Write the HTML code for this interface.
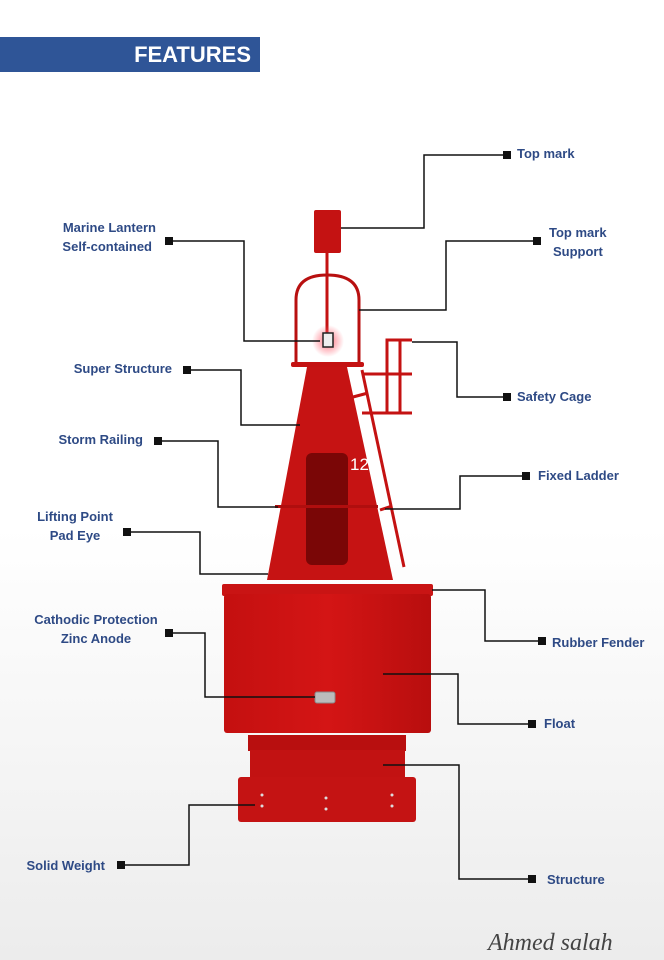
<!DOCTYPE html>
<html><head><meta charset="utf-8"><style>
html,body{margin:0;padding:0;}
body{width:664px;height:960px;overflow:hidden;background:linear-gradient(#fff 0%,#fff 55%,#ececec 100%);position:relative;font-family:"Liberation Sans",sans-serif;}
.banner{position:absolute;left:0;top:37px;width:260px;height:35px;background:#2f5597;color:#fff;font-weight:bold;font-size:22px;line-height:35px;text-align:right;box-sizing:border-box;padding-right:9px;}
svg{position:absolute;left:0;top:0;}
.l{font-family:"Liberation Sans",sans-serif;font-weight:bold;font-size:13px;fill:#2e4a85;}
</style></head><body>
<div class="banner">FEATURES</div>
<svg width="664" height="960" viewBox="0 0 664 960">
<defs>
<radialGradient id="glow" cx="50%" cy="50%" r="50%"><stop offset="0" stop-color="#ff6070" stop-opacity="0.9"/><stop offset="1" stop-color="#ff6070" stop-opacity="0"/></radialGradient>
<linearGradient id="fl" x1="0" x2="1"><stop offset="0" stop-color="#c41010"/><stop offset="0.5" stop-color="#d41515"/><stop offset="1" stop-color="#b80e0e"/></linearGradient>
</defs>
<rect x="314" y="210" width="27" height="43" rx="2" fill="#c41212"/>
<line x1="327" y1="253" x2="327" y2="345" stroke="#c41212" stroke-width="3"/>
<path d="M296 365 V300 Q296 275 327 275 Q359 275 359 300 V365" fill="none" stroke="#b81010" stroke-width="3"/>
<rect x="291" y="362" width="73" height="5" rx="2" fill="#c41212"/>
<circle cx="328" cy="341" r="16" fill="url(#glow)"/>
<rect x="323" y="333" width="10" height="14" fill="#eee" stroke="#222" stroke-width="1.5"/>
<line x1="362" y1="370" x2="404" y2="567" stroke="#c41212" stroke-width="3"/>
<line x1="353" y1="397" x2="368" y2="393" stroke="#c41212" stroke-width="3"/>
<line x1="380" y1="510" x2="392" y2="506" stroke="#c41212" stroke-width="3"/>
<path d="M387 413 V340 H412 M387 374 H412 M362 413 H412 M362 374 H387 M400 340 V413" fill="none" stroke="#c41212" stroke-width="3"/>
<polygon points="307,367 347,367 393,580 267,580" fill="#c61313"/>
<rect x="306" y="453" width="42" height="112" rx="6" fill="#7a0606"/>
<text x="350" y="470" font-family="Liberation Sans" font-size="17" fill="#fff">12</text>
<rect x="275" y="505" width="103" height="3" fill="#b00e0e"/>
<rect x="222" y="584" width="211" height="12" rx="2" fill="#c91414"/>
<rect x="224" y="594" width="207" height="139" rx="3" fill="url(#fl)"/>
<rect x="315" y="692" width="20" height="11" rx="2" fill="#bbb" stroke="#888"/>
<rect x="248" y="735" width="158" height="16" fill="#b80f0f"/>
<rect x="250" y="750" width="155" height="30" fill="#c21212"/>
<rect x="238" y="777" width="178" height="45" rx="3" fill="#c41313"/>
<g fill="#ddd"><circle cx="262" cy="795" r="1.5"/><circle cx="262" cy="806" r="1.5"/><circle cx="326" cy="798" r="1.5"/><circle cx="326" cy="809" r="1.5"/><circle cx="392" cy="795" r="1.5"/><circle cx="392" cy="806" r="1.5"/></g>
<g fill="none" stroke="#111" stroke-width="1.5">
<path d="M341 228 H424 V155 H505"/>
<path d="M359 310 H446 V241 H535"/>
<path d="M172 241 H244 V341 H320"/>
<path d="M190 370 H241 V425 H300"/>
<path d="M161 441 H218 V507 H278"/>
<path d="M412 342 H457 V397 H505"/>
<path d="M385 509 H460 V476 H524"/>
<path d="M130 532 H200 V574 H268"/>
<path d="M432 590 H485 V641 H540"/>
<path d="M172 633 H205 V697 H315"/>
<path d="M383 674 H458 V724 H530"/>
<path d="M383 765 H459 V879 H530"/>
<path d="M124 865 H189 V805 H255"/>
</g>
<g fill="#111">
<rect x="503" y="151" width="8" height="8"/>
<rect x="533" y="237" width="8" height="8"/>
<rect x="165" y="237" width="8" height="8"/>
<rect x="183" y="366" width="8" height="8"/>
<rect x="154" y="437" width="8" height="8"/>
<rect x="503" y="393" width="8" height="8"/>
<rect x="522" y="472" width="8" height="8"/>
<rect x="123" y="528" width="8" height="8"/>
<rect x="538" y="637" width="8" height="8"/>
<rect x="165" y="629" width="8" height="8"/>
<rect x="528" y="720" width="8" height="8"/>
<rect x="528" y="875" width="8" height="8"/>
<rect x="117" y="861" width="8" height="8"/>
</g>
<g class="l">
<text x="517" y="158">Top mark</text>
<text x="549" y="237">Top mark</text>
<text x="553" y="256">Support</text>
<text x="156" y="232" text-anchor="end">Marine Lantern</text>
<text x="152" y="251" text-anchor="end">Self-contained</text>
<text x="172" y="373" text-anchor="end">Super Structure</text>
<text x="143" y="444" text-anchor="end">Storm Railing</text>
<text x="517" y="401">Safety Cage</text>
<text x="538" y="480">Fixed Ladder</text>
<text x="75" y="521" text-anchor="middle">Lifting Point</text>
<text x="75" y="540" text-anchor="middle">Pad Eye</text>
<text x="552" y="647">Rubber Fender</text>
<text x="96" y="624" text-anchor="middle">Cathodic Protection</text>
<text x="96" y="643" text-anchor="middle">Zinc Anode</text>
<text x="544" y="728">Float</text>
<text x="547" y="884">Structure</text>
<text x="105" y="870" text-anchor="end">Solid Weight</text>
</g>
<text x="488" y="950" font-family="Liberation Serif" font-style="italic" font-size="24" fill="#444">Ahmed salah</text>
</svg>
</body></html>
